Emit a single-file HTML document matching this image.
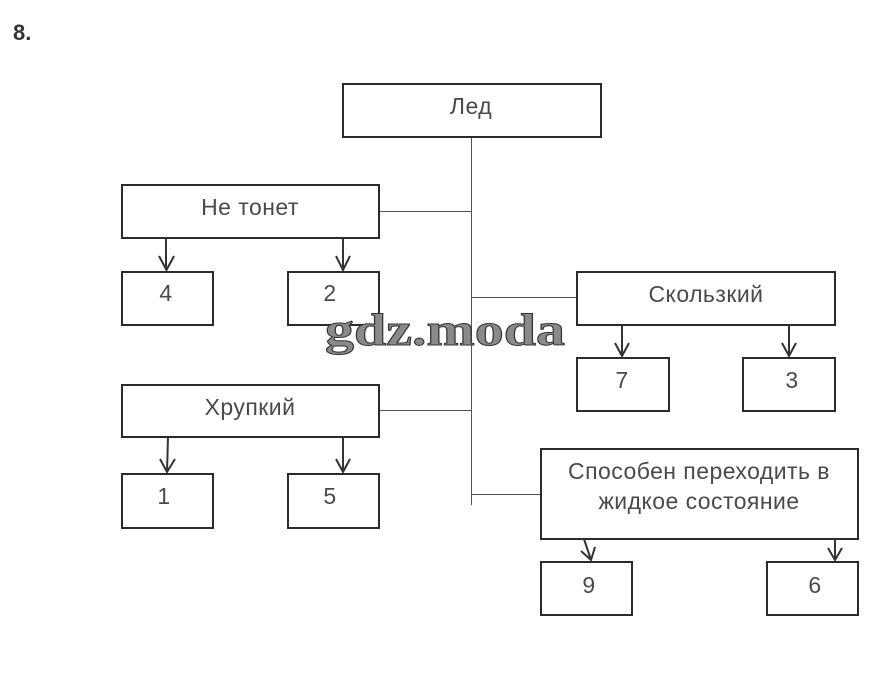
<!DOCTYPE html>
<html><head><meta charset="utf-8"><style>
html,body{margin:0;padding:0;background:#fff}
svg{display:block}
.t{font-family:"Liberation Sans",sans-serif;font-size:23px;fill:#4a4a4a;text-anchor:middle;letter-spacing:.45px}
.b{fill:#fff;stroke:#2b2b2b;stroke-width:2}
.l{stroke:#555;stroke-width:1;fill:none}
.a{stroke:#333;stroke-width:2;fill:none}
</style></head><body>
<svg width="871" height="677" viewBox="0 0 871 677" xmlns="http://www.w3.org/2000/svg">
<text x="13" y="40" font-family="Liberation Sans,sans-serif" font-size="22" font-weight="bold" fill="#333">8.</text>
<path class="l" d="M471.500 137V505M380 211.500H471M471 297.500H577M380 410.500H471M471 494.500H541"/>
<rect class="b" x="343" y="84" width="258" height="53"/>
<rect class="b" x="122" y="185" width="257" height="53"/>
<rect class="b" x="122" y="272" width="91" height="53"/>
<rect class="b" x="288" y="272" width="91" height="53"/>
<rect class="b" x="577" y="272" width="258" height="53"/>
<rect class="b" x="577" y="358" width="92" height="53"/>
<rect class="b" x="743" y="358" width="92" height="53"/>
<rect class="b" x="122" y="385" width="257" height="52"/>
<rect class="b" x="122" y="474" width="91" height="54"/>
<rect class="b" x="288" y="474" width="91" height="54"/>
<rect class="b" x="541" y="449" width="317" height="90"/>
<rect class="b" x="541" y="562" width="91" height="53"/>
<rect class="b" x="767" y="562" width="91" height="53"/>
<path class="a" d="M166 238V270M159 256L166.500 270L174 256M343 238V270M336 256L343 270L350 256M622 325V356M615 343L622 356L629 343M789 325V356M782 343L789 356L796 343M168 437L167 472M160 459L167 472L175 459M343 437V472M336 459L343 472L350 459M584 539L591 560M581 551L591 560L595 547M835 539V560M828 548L835 560L842 548"/>
<g class="t">
<text class="t" x="471" y="114">Лед</text>
<text class="t" x="250" y="215">Не тонет</text>
<text class="t" x="166" y="301">4</text>
<text class="t" x="330" y="301">2</text>
<text class="t" x="706" y="302">Скользкий</text>
<text class="t" x="622" y="388">7</text>
<text class="t" x="792" y="388">3</text>
<text class="t" x="250" y="415">Хрупкий</text>
<text class="t" x="164" y="504">1</text>
<text class="t" x="330" y="504">5</text>
<text class="t" x="699" y="479">Способен переходить в</text>
<text class="t" x="699" y="509">жидкое состояние</text>
<text class="t" x="589" y="593">9</text>
<text class="t" x="815" y="593">6</text>
</g>
<text x="445" y="345" text-anchor="middle" font-family="Liberation Serif,serif" font-size="46" font-weight="bold" fill="#8a8a8a" stroke="#333" stroke-width="1" textLength="240" lengthAdjust="spacingAndGlyphs">gdz.moda</text>
</svg>
</body></html>
